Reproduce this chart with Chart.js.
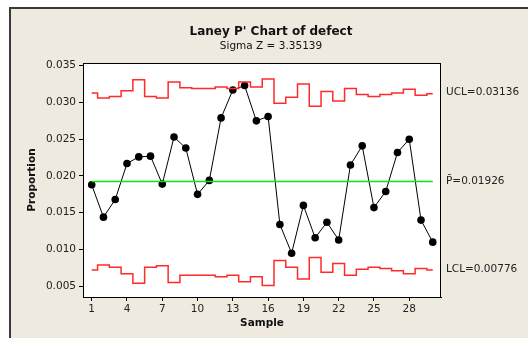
<!DOCTYPE html>
<html>
<head>
<meta charset="utf-8">
<script src="https://cdn.jsdelivr.net/npm/chart.js@4"></script>
<style>
  body { margin: 0; background: #fff; width: 528px; height: 338px; overflow: hidden; position: relative; }
  #frame { position: absolute; left: 9px; top: 7px; width: 560px; height: 360px;
           background: #eeeae0; border-left: 2px solid #3a3a3a; border-top: 2px solid #3a3a3a; }
  canvas { position: absolute; left: 0; top: 0; }
</style>
</head>
<body>
<div id="frame"></div>
<canvas id="pChart" width="528" height="338"></canvas>
<script>
// values
const samples = [1,2,3,4,5,6,7,8,9,10,11,12,13,14,15,16,17,18,19,20,21,22,23,24,25,26,27,28,29,30];
const proportion = [0.0188,0.0144,0.0168,0.0217,0.0226,0.0227,0.0189,0.0253,0.0238,0.0175,
                    0.0194,0.0279,0.0317,0.0323,0.0275,0.0281,0.0134,0.0095,0.0160,0.0116,
                    0.0137,0.0113,0.0215,0.0241,0.0157,0.0179,0.0232,0.0250,0.0140,0.0110];
const ucl = [0.0313,0.0306,0.0308,0.0316,0.0331,0.0308,0.0306,0.0328,0.0320,0.0319,
             0.0319,0.0321,0.0319,0.0328,0.0321,0.0332,0.0299,0.0307,0.0325,0.0295,
             0.0315,0.0302,0.0319,0.0311,0.0308,0.0311,0.0313,0.0318,0.0310,0.0312];
const lcl = [0.0072,0.0079,0.0076,0.0067,0.0054,0.0076,0.0078,0.0055,0.0065,0.0065,
             0.0065,0.0063,0.0065,0.0056,0.0063,0.0051,0.0085,0.0076,0.0060,0.0089,
             0.0069,0.0081,0.0065,0.0073,0.0076,0.0074,0.0071,0.0067,0.0074,0.0072];
const centerP = 0.01926;
const uclLabel = 0.03136;
const lclLabel = 0.00776;
const xTicks = [1,4,7,10,13,16,19,22,25,28];
const yTicks = [0.005,0.010,0.015,0.020,0.025,0.030,0.035];

const FONT = "'DejaVu Sans', sans-serif";

const pts = arr => samples.map((s, i) => ({x: s, y: arr[i]}));

const decor = {
  id: 'decor',
  beforeDraw(chart) {
    const {ctx, chartArea: a} = chart;
    ctx.save();
    ctx.fillStyle = '#fff';
    ctx.fillRect(a.left, a.top, a.right - a.left, a.bottom - a.top);
    ctx.restore();
  },
  afterDraw(chart) {
    const {ctx, chartArea: a, scales} = chart;
    const y = scales.y;
    ctx.save();
    ctx.strokeStyle = '#000';
    ctx.lineWidth = 1;
    ctx.strokeRect(a.left + 0.5, a.top + 0.5, a.right - a.left - 1, a.bottom - a.top);
    ctx.fillStyle = '#111';
    ctx.textAlign = 'center';
    ctx.textBaseline = 'middle';
    ctx.font = "bold 12px " + FONT;
    ctx.fillText("Laney P' Chart of defect", 271, 32);
    ctx.font = "10.5px " + FONT;
    ctx.fillText("Sigma Z = 3.35139", 271, 46);
    ctx.font = "bold 10.5px " + FONT;
    ctx.fillText("Sample", (a.left + a.right) / 2, 323);
    ctx.save();
    ctx.translate(32, (a.top + a.bottom) / 2);
    ctx.rotate(-Math.PI / 2);
    ctx.fillText("Proportion", 0, 0);
    ctx.restore();
    ctx.textAlign = 'left';
    ctx.font = "10.5px " + FONT;
    ctx.fillStyle = '#222';
    ctx.fillText("UCL=" + uclLabel.toFixed(5), 446, y.getPixelForValue(uclLabel));
    ctx.fillText("P\u0304=" + centerP.toFixed(5), 446, y.getPixelForValue(centerP));
    ctx.fillText("LCL=" + lclLabel.toFixed(5), 446, y.getPixelForValue(lclLabel) + 3);
    ctx.restore();
  }
};

new Chart(document.getElementById('pChart'), {
  type: 'line',
  data: {
    datasets: [
      { label: 'UCL', data: pts(ucl), stepped: 'middle', borderColor: '#ff2a2a', borderWidth: 1.5, pointRadius: 0 },
      { label: 'LCL', data: pts(lcl), stepped: 'middle', borderColor: '#ff2a2a', borderWidth: 1.5, pointRadius: 0 },
      { label: 'P', data: pts(samples.map(() => centerP)), borderColor: '#00ee00', borderWidth: 1.5, pointRadius: 0 },
      { label: 'Proportion', data: pts(proportion), borderColor: '#000', borderWidth: 1, lineTension: 0,
        pointRadius: 3.8, pointBackgroundColor: '#000', pointBorderColor: '#000', pointBorderWidth: 0 }
    ]
  },
  options: {
    responsive: false,
    animation: false,
    devicePixelRatio: 1,
    layout: { padding: { left: 0, right: 87, top: 63, bottom: 0 } },
    plugins: { legend: { display: false }, tooltip: { enabled: false } },
    scales: {
      x: {
        type: 'linear', min: 0.26, max: 30.7,
        afterBuildTicks: s => { s.ticks = xTicks.map(v => ({value: v})); },
        afterFit: s => { s.height = 41; },
        grid: { drawOnChartArea: false, drawTicks: true, tickLength: 4, color: '#000' },
        border: { display: true, color: '#000' },
        ticks: { color: '#222', font: { family: FONT, size: 10.5 }, padding: 2, maxRotation: 0 }
      },
      y: {
        min: 0.00354, max: 0.03537,
        afterBuildTicks: s => { s.ticks = yTicks.map(v => ({value: v})); },
        afterFit: s => { s.width = 83; },
        grid: { drawOnChartArea: false, drawTicks: true, tickLength: 4, color: '#000' },
        border: { display: true, color: '#000' },
        ticks: { color: '#222', font: { family: FONT, size: 10.5 }, padding: 3,
                 callback: v => v.toFixed(3) }
      }
    }
  },
  plugins: [decor]
});
</script>
</body>
</html>
